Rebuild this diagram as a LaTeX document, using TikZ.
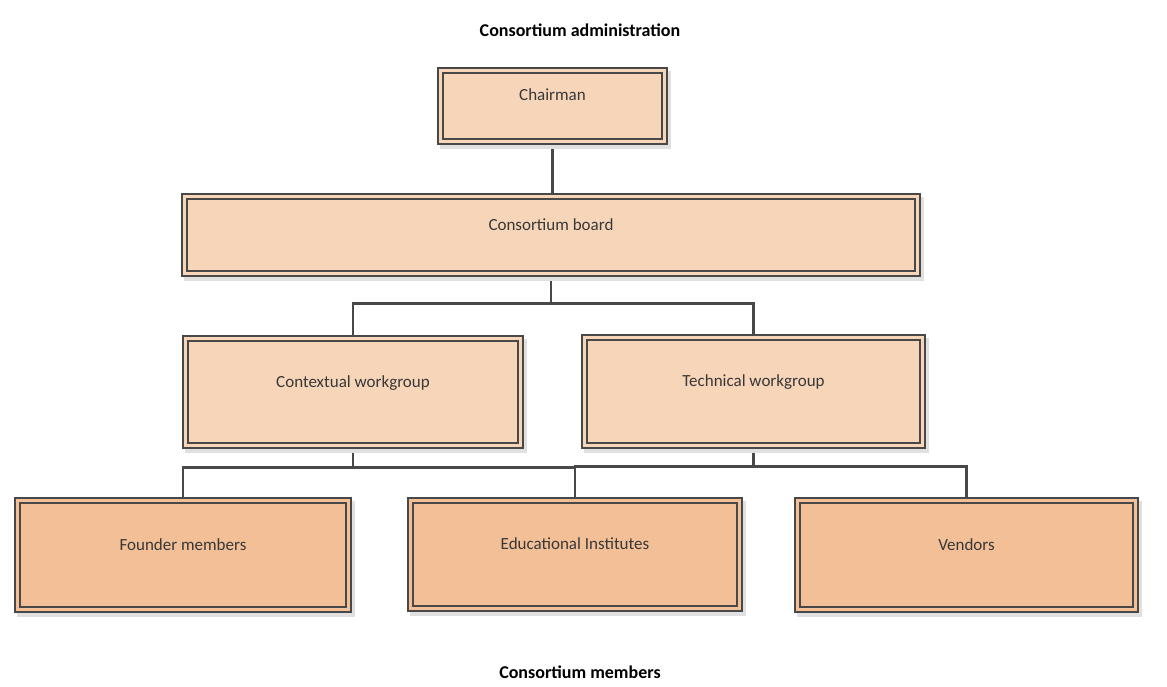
\documentclass[tikz,border=0pt]{standalone}
\usepackage{fontspec}
\setmainfont{Carlito}
\usetikzlibrary{shadows,backgrounds}
\definecolor{peach}{HTML}{F7D5B9}
\definecolor{apricot}{HTML}{F2BF97}
\definecolor{rim}{HTML}{484848}
\begin{document}
\begin{tikzpicture}[x=1pt,y=-1pt]
    \tikzset{font=\fontsize{17}{20}\selectfont,
      unit/.style={rectangle,draw=rim,line width=1.8pt,double distance=3pt,
        text height=10pt,text depth=20pt,text=black!78,
        drop shadow={shadow xshift=3pt,shadow yshift=-4pt,fill=black!12,
          draw=black!12,line width=6.6pt,opacity=1}},
      office/.style={unit,fill=peach,double=peach},
      member/.style={unit,fill=apricot,double=apricot},
      wire/.style={rim,line width=2.6pt},
      heading/.style={font=\fontsize{18}{21}\selectfont\bfseries}};
    \useasboundingbox (0,0) rectangle (1167,687);
    \node[heading] (admin) at (580,30) {Consortium administration};
    \node[heading] (members) at (580,672) {Consortium members};
    \node[office,minimum width=224pt,minimum height=71pt] (chair) at (552.5,106) {Chairman};
    \node[office,minimum width=733pt,minimum height=77pt] (board) at (551,235) {Consortium board};
    \node[office,minimum width=335pt,minimum height=107pt] (ctx) at (353,392) {Contextual workgroup};
    \node[office,minimum width=338pt,minimum height=108pt] (tech) at (753.5,391.5) {Technical workgroup};
    \node[member,minimum width=331pt,minimum height=109pt] (founder) at (183,555) {Founder members};
    \node[member,minimum width=329pt,minimum height=108pt] (edu) at (575,554.5) {Educational Institutes};
    \node[member,minimum width=338pt,minimum height=109pt] (vendors) at (966.5,555) {Vendors};
    \begin{scope}[on background layer]
      \draw[wire] (chair.south) -- (chair.south |- board.north);
      \draw[wire] (board.south) -- ++(0,29) -| (ctx.north);
      \draw[wire] (board.south) -- ++(0,29) -| (tech.north);
      \draw[wire] (ctx.south) -- ++(0,21) -| (founder.north);
      \draw[wire] (ctx.south) -- ++(0,21) -| (edu.north);
      \draw[wire] (tech.south) -- ++(0,20) -| (edu.north);
      \draw[wire] (tech.south) -- ++(0,20) -| (vendors.north);
    \end{scope}
\end{tikzpicture}
\end{document}
